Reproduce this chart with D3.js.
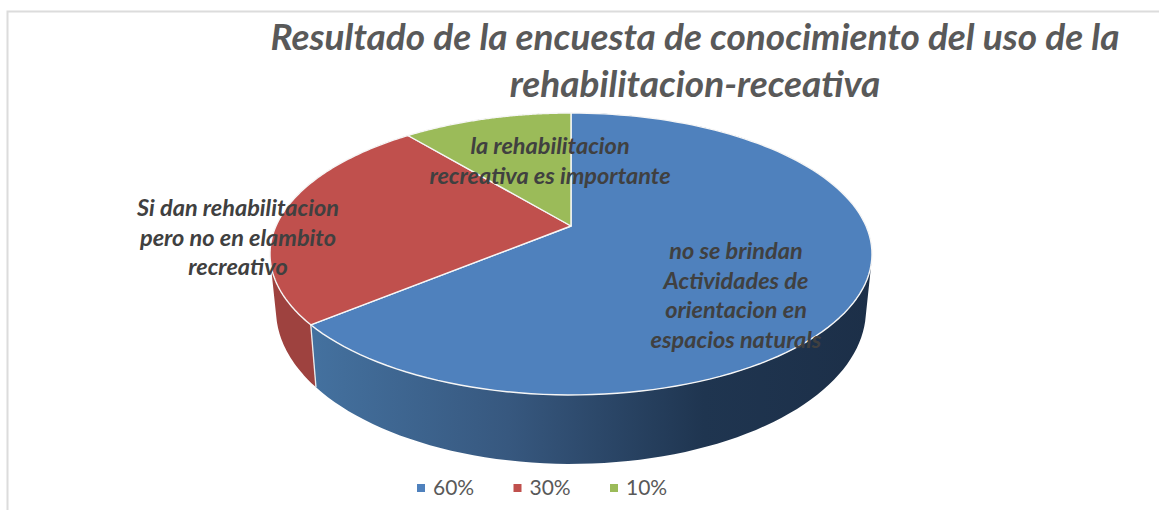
<!DOCTYPE html>
<html><head><meta charset="utf-8">
<script src="https://cdn.jsdelivr.net/npm/d3@7"></script>
<style>html,body{margin:0;padding:0;background:#fff}svg{display:block}text{font-family:Lato,"Open Sans",sans-serif}</style>
</head><body><svg id="c" width="1159" height="510"></svg>
<script>
// Slice shares as seen in the picture; legend text is kept as its own list.
const categories = ["60%", "30%", "10%"];
const sliceValues = [64, 25, 11];
const sliceColors = ["#4f81bd", "#c0504d", "#9bbb59"];
const titleLines = ["Resultado de la encuesta de conocimiento del uso de la", "rehabilitacion-receativa"];
const sliceLabels = [
  ["no se brindan", "Actividades de", "orientacion en", "espacios naturals"],
  ["Si dan rehabilitacion", "pero no en elambito", "recreativo"],
  ["la rehabilitacion", "recreativa es importante"]
];

const W = 1159, H = 510;
const svg = d3.select("#c");
const defs = svg.append("defs");

// Perspective view of the disc: upper face, and the lower rim as a wider ellipse
const cx = 571, cy = 226, persp = 0.1985, scaleX = 295, scaleY = 135.4;
const faceMidY = 254, rimMidY = 310, rimStretchY = 1.092, rimStretchX = 0.98;
function project(a, lower) {
  const u = Math.sin(a), v = Math.cos(a), w = 1 + persp * v;
  const x = cx + scaleX * u / w, y = cy - scaleY * v / w;
  return lower ? [cx + (x - cx) * rimStretchX, rimMidY + (y - faceMidY) * rimStretchY] : [x, y];
}
const arcPts = (a0, a1, lower) => d3.range(0, 121).map(i => project(a0 + (a1 - a0) * i / 120, lower));
const line = d3.line();

// The wall is the union of thin quads, all wound the same way, so its silhouette is straight.
function wallPath(a0, a1) {
  const t = arcPts(a0, a1, false), b = arcPts(a0, a1, true);
  return d3.range(0, t.length - 1).map(i => {
    const q = [t[i], t[i + 1], b[i + 1], b[i]];
    if (d3.polygonArea(q) < 0) q.reverse();
    return line(q) + "Z";
  }).join("");
}

const arcs = d3.pie().sort(null)(sliceValues);

// frame
svg.append("path").attr("d", `M${W},11.5H7.5V${H}`).attr("fill", "none").attr("stroke", "#dcdcdc").attr("stroke-width", 2);

const wallStops = [
  [["0", "#44719f"], ["0.35", "#37587f"], ["0.7", "#1f3550"], ["1", "#1c2f48"]],
  [["0", "#9e423f"], ["1", "#a04441"]],
  [["0", "#7a9446"], ["1", "#7a9446"]]
];
wallStops.forEach((st, i) => {
  const g = defs.append("linearGradient").attr("id", "w" + i).attr("gradientUnits", "userSpaceOnUse")
    .attr("x1", 312).attr("x2", 872).attr("y1", 0).attr("y2", 0);
  st.forEach(s => g.append("stop").attr("offset", s[0]).attr("stop-color", s[1]));
});

// walls
svg.append("g").selectAll("path").data(arcs).join("path")
  .attr("d", d => wallPath(d.startAngle, d.endAngle))
  .attr("fill", (d, i) => `url(#w${i})`);
// edge between the red and blue walls
const seam = arcs[0].endAngle;
svg.append("path").attr("d", line([project(seam, false), project(seam, true)]))
  .attr("stroke", "#ececec").attr("stroke-width", 1.3).attr("fill", "none");

// top faces
svg.append("g").selectAll("path").data(arcs).join("path")
  .attr("d", d => line([[cx, cy]].concat(arcPts(d.startAngle, d.endAngle, false))) + "Z")
  .attr("fill", (d, i) => sliceColors[i])
  .attr("stroke", "#f6f6f6").attr("stroke-width", 1.4).attr("stroke-linejoin", "round");

// title
svg.append("g").selectAll("text").data(titleLines).join("text")
  .attr("x", 695).attr("y", (d, i) => 50 + i * 47)
  .attr("text-anchor", "middle").attr("font-size", 37).attr("font-weight", 700).attr("font-style", "italic")
  .attr("fill", "#595959").text(d => d);

// slice labels
const labelPos = [[736, 259], [238, 216], [550, 154]];
sliceLabels.forEach((lines, i) => {
  svg.append("g").selectAll("text").data(lines).join("text")
    .attr("x", labelPos[i][0]).attr("y", (d, j) => labelPos[i][1] + j * 29.5)
    .attr("text-anchor", "middle").attr("font-size", 23.5).attr("font-weight", 700).attr("font-style", "italic")
    .attr("fill", "#404040").text(d => d);
});

// legend
const legendX = d3.scalePoint().domain(categories).range([417, 610]);
const lg = svg.append("g").selectAll("g").data(categories).join("g")
  .attr("transform", d => `translate(${legendX(d)},0)`);
lg.append("rect").attr("y", 484).attr("width", 8).attr("height", 8).attr("fill", (d, i) => sliceColors[i]);
lg.append("text").attr("x", 16).attr("y", 495).attr("font-size", 21).attr("fill", "#595959").text(d => d);
</script></body></html>
